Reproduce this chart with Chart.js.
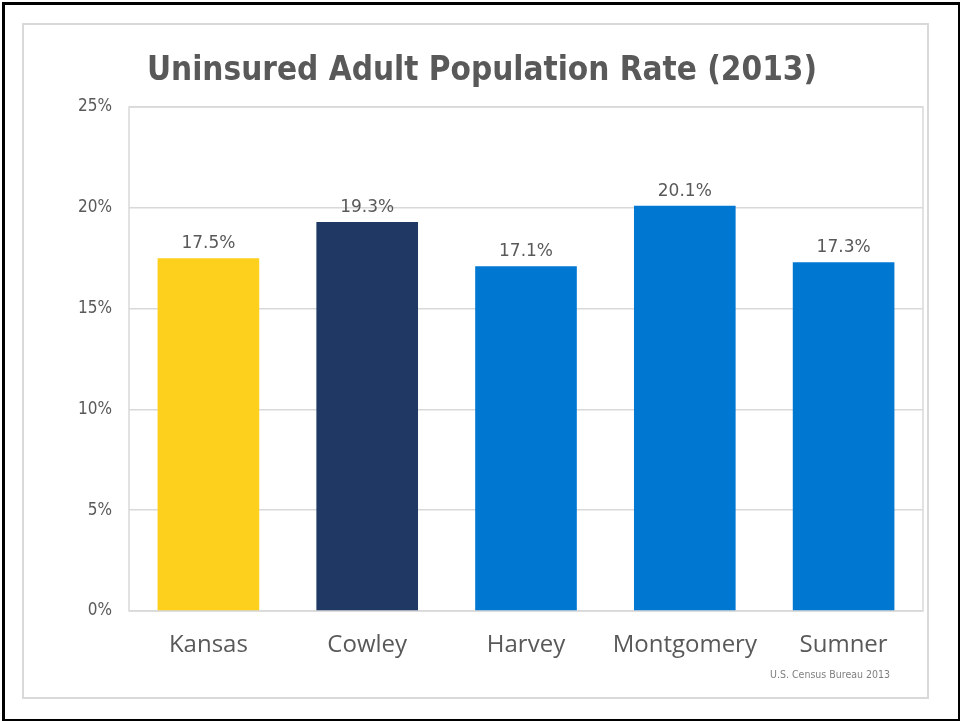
<!DOCTYPE html>
<html><head><meta charset="utf-8">
<script src="https://cdn.jsdelivr.net/npm/chart.js@4/dist/chart.umd.min.js"></script>
<style>
html,body{margin:0;padding:0;background:#fff;}
#wrap{position:relative;width:961px;height:721px;overflow:hidden;}
#outer{position:absolute;left:2px;top:2px;width:953px;height:714px;border:3px solid #000;border-right-width:2px;border-bottom-width:2px;box-sizing:content-box;}
#inner{position:absolute;left:22px;top:23px;width:903px;height:672px;border:2px solid #d9d9d9;}
canvas{position:absolute;left:0;top:0;}
</style></head><body>
<div id="wrap"><div id="outer"></div><div id="inner"></div><canvas id="c" width="961" height="721"></canvas></div>
<script>
const categories = ["Kansas","Cowley","Harvey","Montgomery","Sumner"];
const values = [17.5, 19.3, 17.1, 20.1, 17.3];
const barColors = ["#FDD01D","#203864","#0078D2","#0078D2","#0078D2"];
const yTicks = [0,5,10,15,20,25];
const titleText = "Uninsured Adult Population Rate (2013)";
const sourceText = "U.S. Census Bureau 2013";

const extras = {
  id:'extras',
  beforeDatasetsDraw(chart){
    const a = chart.chartArea, ctx = chart.ctx;
    ctx.save();
    ctx.strokeStyle = '#d9d9d9'; ctx.lineWidth = 1.5;
    ctx.strokeRect(a.left, a.top, a.right - a.left, a.bottom - a.top);
    ctx.restore();
  },
  afterDatasetsDraw(chart){
    const ctx = chart.ctx;
    const meta = chart.getDatasetMeta(0);
    ctx.save();
    ctx.fillStyle = '#595959';
    ctx.font = '17px "DejaVu Sans"';
    ctx.textAlign = 'center'; ctx.textBaseline = 'bottom';
    meta.data.forEach((el, i) => {
      ctx.fillText(values[i].toFixed(1) + '%', el.x, el.y - 6);
    });
    ctx.font = 'bold 33px "DejaVu Sans Condensed", "DejaVu Sans"';
    ctx.textBaseline = 'middle';
    ctx.fillText(titleText, 482, 71);
    ctx.font = '10.5px "DejaVu Sans Condensed", "DejaVu Sans"';
    ctx.fillStyle = '#7f7f7f';
    ctx.textAlign = 'right';
    ctx.fillText(sourceText, 890, 675);
    ctx.restore();
  }
};

new Chart(document.getElementById('c'), {
  type: 'bar',
  data: { labels: categories, datasets: [{ data: values, backgroundColor: barColors, barPercentage: 0.64, categoryPercentage: 1.0 }] },
  options: {
    responsive: false, animation: false,
    layout: { padding: { top: 107, right: 38, left: 0, bottom: 0 } },
    plugins: { legend: { display: false }, tooltip: { enabled: false } },
    scales: {
      x: {
        grid: { display: false, drawTicks: false },
        border: { display: false },
        ticks: { color: '#595959', font: { family: '"Open Sans"', size: 24 }, padding: 20 },
        afterFit(s){ s.height = 110; }
      },
      y: {
        min: 0, max: 25,
        afterBuildTicks(s){ s.ticks = yTicks.map(v => ({ value: v })); },
        grid: { color: '#d9d9d9', lineWidth: 1.5, drawTicks: false },
        border: { display: false },
        ticks: { color: '#595959', font: { family: '"DejaVu Sans Condensed", "DejaVu Sans"', size: 17 }, padding: 17, callback: v => v + '%' },
        afterFit(s){ s.width = 129; }
      }
    }
  },
  plugins: [extras]
});
</script>
</body></html>
